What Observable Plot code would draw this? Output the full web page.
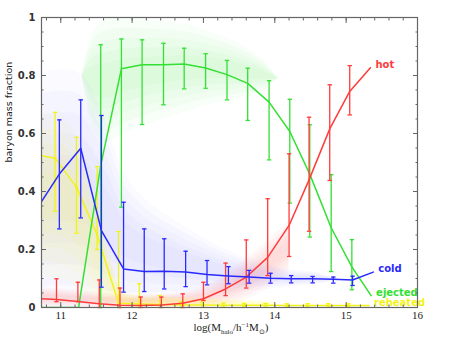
<!DOCTYPE html>
<html><head><meta charset="utf-8">
<script src="https://cdn.jsdelivr.net/npm/d3@7"></script>
<script src="https://cdn.jsdelivr.net/npm/@observablehq/plot@0.6"></script>
<style>body{margin:0;background:#fff;}</style>
</head><body><div id="chart"></div>
<script>
// ---- data ----
const xHot = [10.65, 10.94, 11.24, 11.54, 11.83, 12.12, 12.41, 12.71, 13.00, 13.31, 13.60, 13.90, 14.20, 14.48, 14.77, 15.05, 15.34];
const hot  = [0.031, 0.028, 0.021, 0.013, 0.008, 0.007, 0.009, 0.015, 0.030, 0.064, 0.105, 0.173, 0.283, 0.440, 0.616, 0.745, 0.827];
const hotLo = [null, 0.02, 0.02, 0.0, 0.0, 0.0, 0.0, 0.0, 0.024, 0.041, 0.067, 0.110, 0.176, 0.263, 0.438, 0.664, null];
const hotHi = [null, 0.099, 0.087, 0.095, 0.067, 0.036, 0.036, 0.047, 0.087, 0.153, 0.233, 0.375, 0.530, 0.656, 0.768, 0.834, null];

const xCold = [10.69, 10.98, 11.28, 11.57, 11.88, 12.17, 12.45, 12.75, 13.05, 13.35, 13.64, 13.94, 14.23, 14.53, 14.82, 15.09, 15.38];
const cold  = [0.350, 0.460, 0.549, 0.265, 0.133, 0.124, 0.125, 0.122, 0.114, 0.109, 0.105, 0.101, 0.099, 0.099, 0.097, 0.095, 0.122];
const coldLo = [null, 0.271, 0.309, 0.070, 0.053, 0.055, 0.064, 0.072, 0.078, 0.082, 0.084, 0.084, 0.085, 0.085, 0.084, 0.076, null];
const coldHi = [null, 0.647, 0.716, 0.662, 0.363, 0.271, 0.237, 0.194, 0.162, 0.141, 0.128, 0.118, 0.110, 0.107, 0.105, 0.108, null];

const xEjected = [10.66, 10.95, 11.25, 11.56, 11.85, 12.14, 12.44, 12.73, 13.03, 13.33, 13.62, 13.92, 14.21, 14.49, 14.79, 15.08, 15.35];
const ejected  = [0, 0, 0, 0.490, 0.823, 0.837, 0.837, 0.840, 0.826, 0.803, 0.773, 0.708, 0.607, 0.460, 0.275, 0.140, 0.041];
const ejectedLo = [null, null, null, 0.0, 0.346, 0.631, 0.699, 0.754, 0.756, 0.716, 0.645, 0.509, 0.360, 0.243, 0.124, 0.061, null];
const ejectedHi = [null, null, null, 0.906, 0.926, 0.923, 0.911, 0.894, 0.875, 0.852, 0.825, 0.782, 0.718, 0.630, 0.458, 0.234, null];

const xReheated = [10.63, 10.92, 11.22, 11.51, 11.81, 12.10, 12.39, 12.69, 12.98, 13.28, 13.57, 13.87, 14.17, 14.46, 14.75, 15.03, 15.32];
const reheated  = [0.528, 0.515, 0.415, 0.250, 0.015, 0.012, 0.010, 0.009, 0.009, 0.008, 0.008, 0.008, 0.007, 0.007, 0.007, 0.007, 0.007];
const reheatedLo = [null, 0.332, 0.256, 0.200, 0.0, 0.0, 0.0, 0.0, 0.0, 0.002, 0.002, 0.002, 0.002, 0.002, 0.002, 0.002, null];
const reheatedHi = [null, 0.673, 0.587, 0.486, 0.262, 0.082, 0.041, 0.020, 0.018, 0.015, 0.014, 0.014, 0.013, 0.013, 0.013, 0.013, null];

// approximate extents of the faint halo scatter clouds
const cloudColdX  = [10.6, 11.0, 11.3, 11.6, 11.9, 12.2, 12.6, 13.0, 13.4, 13.8, 14.2, 14.6, 14.9];
const cloudColdLo = [0.00, 0.00, 0.00, 0.00, 0.01, 0.02, 0.03, 0.04, 0.05, 0.06, 0.07, 0.08, 0.095];
const cloudColdHi = [0.80, 0.82, 0.80, 0.66, 0.46, 0.37, 0.30, 0.24, 0.19, 0.16, 0.13, 0.12, 0.095];
const cloudEjX  = [11.3, 11.45, 11.6, 11.9, 12.3, 12.7, 13.1, 13.5, 13.85, 14.05];
const cloudEjLo = [0.80, 0.62, 0.57, 0.60, 0.64, 0.67, 0.70, 0.72, 0.75, 0.79];
const cloudEjHi = [0.80, 0.95, 0.99, 1.00, 0.99, 0.98, 0.95, 0.91, 0.85, 0.79];
const cloudHotX  = [10.6, 11.2, 11.8, 12.4, 13.0, 13.4, 13.8, 14.2];
const cloudHotLo = [0.0, 0.0, 0.0, 0.0, 0.0, 0.01, 0.05, 0.12];
const cloudHotHi = [0.07, 0.06, 0.045, 0.045, 0.07, 0.13, 0.21, 0.30];
const cloudRhX  = [10.6, 11.0, 11.3, 11.6, 11.9, 12.5, 13.2, 14.0];
const cloudRhLo = [0.10, 0.10, 0.06, 0.0, 0.0, 0.0, 0.0, 0.0];
const cloudRhHi = [0.66, 0.66, 0.56, 0.30, 0.06, 0.04, 0.03, 0.02];

const xMajor = [11, 12, 13, 14, 15, 16];
const xMinor = d3.range(10.8, 16.01, 0.2).map(v => +v.toFixed(2));
const yMajor = [0, 0.2, 0.4, 0.6, 0.8, 1];
const yMinor = d3.range(0, 1.001, 0.05).map(v => +v.toFixed(2));

const C = {hot: "#ff3b3b", cold: "#2a2aff", ejected: "#33e033", reheated: "#f2f21a"};

// ---- helpers ----
const pts = (xs, ys) => xs.map((x, i) => ({x, y: ys[i]}));
const errs = (xs, lo, hi) => xs.map((x, i) => ({x, lo: lo[i], hi: hi[i]})).filter(d => d.lo != null);
const band = (xs, lo, hi) => xs.map((x, i) => ({x, lo: lo[i], hi: hi[i]}));
const cap = {draw(ctx, size) { const r = Math.sqrt(size / Math.PI); ctx.moveTo(-r, 0); ctx.lineTo(r, 0); }};

function seriesMarks(xs, ys, lo, hi, color, name, dots) {
  const p = pts(xs, ys), e = errs(xs, lo, hi);
  const last = [p[p.length - 1]];
  const m = [
    Plot.ruleX(e, {x: "x", y1: "lo", y2: "hi", stroke: color, strokeWidth: 1.3}),
    Plot.dot(e, {x: "x", y: "lo", symbol: cap, r: 2.2, stroke: color, strokeWidth: 1.3}),
    Plot.dot(e, {x: "x", y: "hi", symbol: cap, r: 2.2, stroke: color, strokeWidth: 1.3}),
    Plot.line(p, {x: "x", y: "y", stroke: color, strokeWidth: 1.5, clip: true}),
    Plot.text(last, {x: "x", y: "y", text: () => name, fill: color, textAnchor: "start", dx: 5, dy: -3,
      fontSize: 10, fontWeight: "bold", fontFamily: "DejaVu Sans"})
  ];
  if (dots) m.push(Plot.dot(p.slice(1, -1), {x: "x", y: "y", r: 1.3, fill: color, clip: true}));
  return m;
}

// a cloud is drawn as nested, shrinking translucent layers -> soft edges, denser core
const cloud = (xs, lo, hi, color, op) => {
  const data = band(xs, lo, hi);
  return [1, 0.82, 0.64, 0.46, 0.28].map(f =>
    Plot.areaY(data, {
      x: "x",
      y1: d => (d.lo + d.hi) / 2 - f * (d.hi - d.lo) / 2,
      y2: d => (d.lo + d.hi) / 2 + f * (d.hi - d.lo) / 2,
      fill: color, fillOpacity: op, curve: "catmull-rom", clip: true
    }));
};

const axisColor = "#666";
const chart = Plot.plot({
  width: 458, height: 342,
  marginLeft: 41, marginRight: 41, marginTop: 17, marginBottom: 35,
  style: {background: "#fff", color: "#222"},
  x: {domain: [10.73, 16]},
  y: {domain: [0, 1]},
  marks: [
    ...cloud(cloudColdX, cloudColdLo, cloudColdHi, "#7070ff", 0.035),
    ...cloud(cloudEjX, cloudEjLo, cloudEjHi, "#55ee55", 0.04),
    ...cloud(cloudHotX, cloudHotLo, cloudHotHi, "#ff6060", 0.045),
    ...cloud(cloudRhX, cloudRhLo, cloudRhHi, "#ffff30", 0.05),
    ...seriesMarks(xReheated, reheated, reheatedLo, reheatedHi, C.reheated, "reheated", true),
    ...seriesMarks(xEjected, ejected, ejectedLo, ejectedHi, C.ejected, "ejected", false),
    ...seriesMarks(xHot, hot, hotLo, hotHi, C.hot, "hot", false),
    ...seriesMarks(xCold, cold, coldLo, coldHi, C.cold, "cold", false),
    Plot.frame({stroke: axisColor, strokeWidth: 1.2}),
    Plot.axisX(xMinor, {anchor: "bottom", tickSize: -2.5, tickFormat: () => "", label: null, stroke: axisColor}),
    Plot.axisX(xMajor, {anchor: "bottom", tickSize: -5, tickFormat: () => "", label: null, stroke: axisColor}),
    Plot.axisX(xMinor, {anchor: "top", tickSize: -2.5, tickFormat: () => "", label: null, stroke: axisColor}),
    Plot.axisX(xMajor, {anchor: "top", tickSize: -5, tickFormat: () => "", label: null, stroke: axisColor}),
    Plot.axisY(yMinor, {anchor: "left", tickSize: -2.5, tickFormat: () => "", label: null, stroke: axisColor}),
    Plot.axisY(yMajor, {anchor: "left", tickSize: -5, tickFormat: () => "", label: null, stroke: axisColor}),
    Plot.axisY(yMinor, {anchor: "right", tickSize: -2.5, tickFormat: () => "", label: null, stroke: axisColor}),
    Plot.axisY(yMajor, {anchor: "right", tickSize: -5, tickFormat: () => "", label: null, stroke: axisColor}),
    Plot.axisX(xMajor, {anchor: "bottom", tickSize: 0, tickPadding: 4, label: null, tickFormat: d => String(d),
      fontSize: 11, fontFamily: "Liberation Serif", fill: "#222"}),
    Plot.axisY(yMajor, {anchor: "left", tickSize: 0, tickPadding: 6, label: null, tickFormat: d => String(d),
      fontSize: 10, fontWeight: "bold", fontFamily: "DejaVu Sans", fill: "#333"}),
    Plot.text(["baryon mass fraction"], {frameAnchor: "left", rotate: -90, dx: -33, text: d => d,
      fontSize: 9.5, fontFamily: "DejaVu Sans", fill: "#222"})
  ]
});

const svg = d3.select(chart);
// x-axis title with subscript / superscript
const t = svg.append("text")
  .attr("x", 231).attr("y", 331)
  .attr("text-anchor", "middle")
  .attr("font-family", "Liberation Serif").attr("font-size", 11).attr("fill", "#222");
t.append("tspan").text("log(M");
t.append("tspan").attr("font-size", 7).attr("dy", 2.5).text("halo");
t.append("tspan").attr("dy", -2.5).text("/h");
t.append("tspan").attr("font-size", 7).attr("dy", -4).text("−1");
t.append("tspan").attr("dy", 4).text("M");
t.append("tspan").attr("font-size", 7).attr("dy", 2.5).text("⊙");
t.append("tspan").attr("dy", -2.5).text(")");

document.getElementById("chart").appendChild(chart);
</script>
</body></html>
